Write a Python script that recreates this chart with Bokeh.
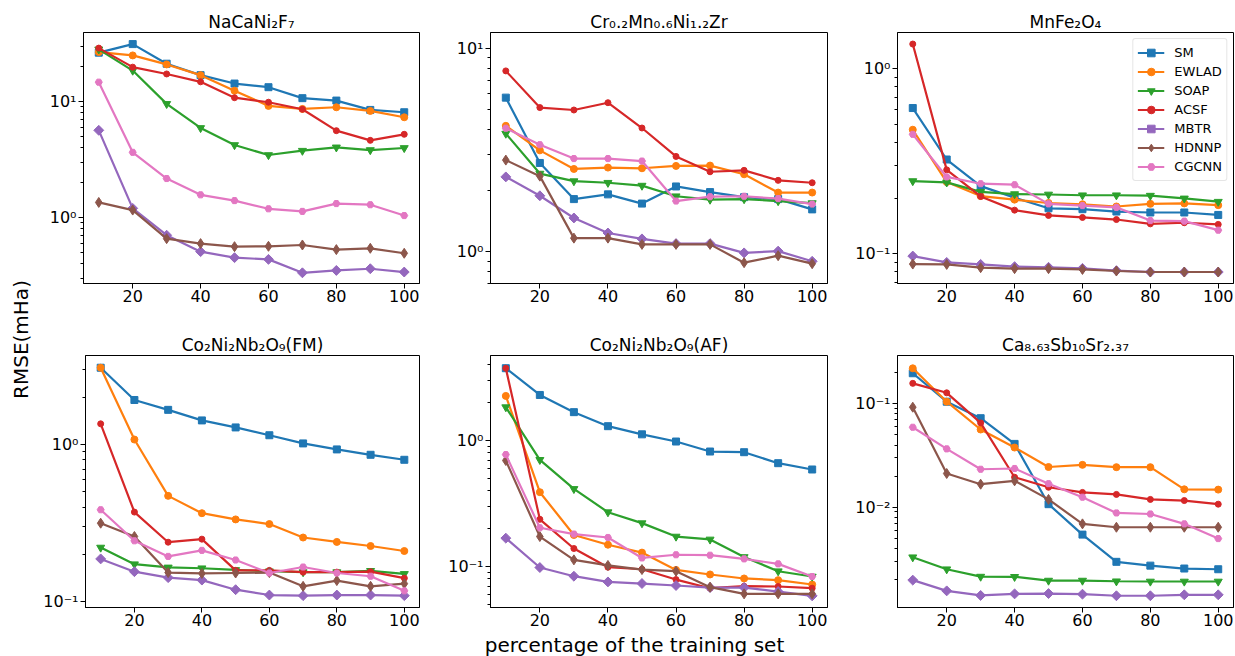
import math
from bokeh.plotting import figure
from bokeh.layouts import row, column
from bokeh.models import Range1d, FixedTicker, CustomJSTickFormatter
from bokeh.embed import file_html
from bokeh.resources import INLINE
from bokeh.core.properties import value

# ---------------- data ----------------
x_pct = [10, 20, 30, 40, 50, 60, 70, 80, 90, 100]
x_ticks = [20, 40, 60, 80, 100]
methods = ["SM", "EWLAD", "SOAP", "ACSF", "MBTR", "HDNNP", "CGCNN"]
colors = ["#1f77b4", "#ff7f0e", "#2ca02c", "#d62728", "#9467bd", "#8c564b", "#e377c2"]

titles = ["NaCaNi₂F₇", "Cr₀.₂Mn₀.₆Ni₁.₂Zr", "MnFe₂O₄",
          "Co₂Ni₂Nb₂O₉(FM)", "Co₂Ni₂Nb₂O₉(AF)", "Ca₈.₆₃Sb₁₀Sr₂.₃₇"]

naca = {
    "SM":    [26.4, 31.3, 21.2, 16.9, 14.3, 13.3, 10.7, 10.2, 8.47, 8.09],
    "EWLAD": [26.7, 25.0, 20.9, 16.9, 12.4, 9.18, 8.64, 8.93, 8.30, 7.32],
    "SOAP":  [28.2, 18.5, 9.55, 5.92, 4.22, 3.46, 3.77, 4.03, 3.82, 3.98],
    "ACSF":  [28.9, 19.8, 17.3, 14.8, 10.8, 9.87, 8.58, 5.61, 4.63, 5.22],
    "MBTR":  [5.65, 1.20, 0.704, 0.508, 0.451, 0.436, 0.334, 0.350, 0.362, 0.339],
    "HDNNP": [1.35, 1.16, 0.658, 0.596, 0.561, 0.565, 0.580, 0.529, 0.543, 0.492],
    "CGCNN": [14.7, 3.65, 2.17, 1.57, 1.40, 1.19, 1.13, 1.32, 1.29, 1.04],
}
crmn = {
    "SM":    [5.74, 2.74, 1.82, 1.92, 1.73, 2.10, 1.97, 1.86, 1.82, 1.62],
    "EWLAD": [4.17, 3.16, 2.56, 2.60, 2.58, 2.65, 2.66, 2.41, 1.96, 1.96],
    "SOAP":  [3.82, 2.43, 2.23, 2.19, 2.12, 1.88, 1.81, 1.82, 1.78, 1.74],
    "ACSF":  [7.77, 5.13, 4.99, 5.42, 4.07, 2.95, 2.48, 2.52, 2.25, 2.19],
    "MBTR":  [2.34, 1.89, 1.47, 1.24, 1.16, 1.10, 1.10, 0.99, 1.01, 0.90],
    "HDNNP": [2.83, 2.36, 1.17, 1.17, 1.09, 1.09, 1.09, 0.886, 0.959, 0.876],
    "CGCNN": [4.06, 3.37, 2.88, 2.88, 2.80, 1.78, 1.87, 1.88, 1.83, 1.72],
}
mnfe = {
    "SM":    [0.613, 0.323, 0.232, 0.201, 0.176, 0.174, 0.169, 0.167, 0.167, 0.162],
    "EWLAD": [0.468, 0.244, 0.205, 0.196, 0.188, 0.185, 0.180, 0.186, 0.187, 0.183],
    "SOAP":  [0.247, 0.243, 0.216, 0.210, 0.209, 0.207, 0.207, 0.206, 0.199, 0.191],
    "ACSF":  [1.36, 0.284, 0.204, 0.172, 0.161, 0.157, 0.153, 0.145, 0.147, 0.144],
    "MBTR":  [0.0971, 0.0897, 0.0875, 0.0851, 0.0844, 0.0833, 0.0810, 0.0796, 0.0796, 0.0796],
    "HDNNP": [0.0879, 0.0875, 0.0840, 0.0830, 0.0830, 0.0822, 0.0806, 0.0796, 0.0796, 0.0796],
    "CGCNN": [0.442, 0.260, 0.239, 0.236, 0.186, 0.182, 0.178, 0.151, 0.150, 0.134],
}
cofm = {
    "SM":    [3.10, 1.93, 1.67, 1.43, 1.29, 1.15, 1.02, 0.934, 0.863, 0.802],
    "EWLAD": [3.10, 1.08, 0.472, 0.366, 0.334, 0.312, 0.256, 0.240, 0.226, 0.210],
    "SOAP":  [0.221, 0.173, 0.165, 0.163, 0.159, 0.156, 0.154, 0.154, 0.157, 0.150],
    "ACSF":  [1.36, 0.372, 0.239, 0.250, 0.158, 0.158, 0.154, 0.154, 0.155, 0.141],
    "MBTR":  [0.187, 0.155, 0.142, 0.137, 0.119, 0.110, 0.109, 0.110, 0.110, 0.109],
    "HDNNP": [0.316, 0.260, 0.153, 0.151, 0.152, 0.153, 0.125, 0.136, 0.125, 0.130],
    "CGCNN": [0.385, 0.244, 0.194, 0.212, 0.184, 0.152, 0.166, 0.152, 0.145, 0.117],
}
coaf = {
    "SM":    [3.75, 2.30, 1.68, 1.30, 1.12, 0.982, 0.818, 0.808, 0.661, 0.589],
    "EWLAD": [2.26, 0.389, 0.178, 0.149, 0.129, 0.094, 0.0865, 0.0804, 0.078, 0.072],
    "SOAP":  [1.84, 0.703, 0.413, 0.270, 0.221, 0.173, 0.164, 0.119, 0.0918, 0.0833],
    "ACSF":  [3.75, 0.237, 0.139, 0.0988, 0.0952, 0.0788, 0.0673, 0.0698, 0.0694, 0.0673],
    "MBTR":  [0.168, 0.0982, 0.0838, 0.0755, 0.0733, 0.0707, 0.0681, 0.0681, 0.0633, 0.0585],
    "HDNNP": [0.694, 0.173, 0.113, 0.102, 0.0946, 0.0918, 0.0686, 0.0607, 0.0607, 0.0607],
    "CGCNN": [0.774, 0.203, 0.181, 0.170, 0.117, 0.124, 0.123, 0.115, 0.105, 0.0833],
}
casb = {
    "SM":    [0.198, 0.105, 0.0727, 0.0410, 0.0107, 0.00543, 0.00296, 0.00272, 0.00255, 0.00251],
    "EWLAD": [0.221, 0.105, 0.0565, 0.0378, 0.0245, 0.0257, 0.0244, 0.0244, 0.0149, 0.0148],
    "SOAP":  [0.00328, 0.00251, 0.00213, 0.00212, 0.00195, 0.00195, 0.00192, 0.00191, 0.00191, 0.00191],
    "ACSF":  [0.158, 0.128, 0.0655, 0.0195, 0.0156, 0.0139, 0.0133, 0.0119, 0.0116, 0.0107],
    "MBTR":  [0.00197, 0.00155, 0.00140, 0.00145, 0.00146, 0.00144, 0.00139, 0.00139, 0.00142, 0.00142],
    "HDNNP": [0.0929, 0.0212, 0.0167, 0.0180, 0.0119, 0.0069, 0.0064, 0.0064, 0.0064, 0.0064],
    "CGCNN": [0.0594, 0.0367, 0.0233, 0.0237, 0.0169, 0.0125, 0.0088, 0.0086, 0.0069, 0.00497],
}
panels = [naca, crmn, mnfe, cofm, coaf, casb]
y_ranges = [(0.27, 39.4), (0.70, 12.0), (0.069, 1.57),
            (0.0916, 3.71), (0.0473, 4.73), (0.00107, 0.294)]
x_range = (5.5, 104.5)

# ---------------- styles ----------------
FONT = "DejaVu Sans"
marker_style = {
    "SM":    dict(marker="square", size=7, angle=0.0),
    "EWLAD": dict(marker="circle", size=7, angle=0.0),
    "SOAP":  dict(marker="inverted_triangle", size=8, angle=0.0),
    "ACSF":  dict(marker="circle", size=6, angle=0.0),
    "MBTR":  dict(marker="square", size=7, angle=math.pi / 4),
    "HDNNP": dict(marker="diamond", size=10, angle=0.0),
    "CGCNN": dict(marker="hex", size=7, angle=0.0),
}

sup_code = """
const sup = {'0':'⁰','1':'¹','2':'²','3':'³','4':'⁴','5':'⁵','6':'⁶','7':'⁷','8':'⁸','9':'⁹','-':'⁻'};
const e = Math.round(Math.log10(tick));
return '10' + String(e).split('').map(c => sup[c]).join('');
"""

major_dec = [10.0 ** k for k in range(-4, 3)]
minor_dec = [m * 10.0 ** k for k in range(-4, 3) for m in range(2, 10)]


def make_panel(idx, w, h, bl, br, bt, bb, legend=False):
    data = panels[idx]
    p = figure(width=w, height=h, y_axis_type="log",
               x_range=Range1d(*x_range), y_range=Range1d(*y_ranges[idx]),
               output_backend="svg", toolbar_location=None, tools="",
               min_border_left=bl, min_border_right=br,
               min_border_top=bt, min_border_bottom=bb)
    p.title.text = titles[idx]
    p.title.align = "center"
    p.title.text_font = FONT
    p.title.text_font_size = "17px"
    p.title.text_font_style = "normal"
    p.title.text_color = "black"
    p.title.standoff = 2
    p.grid.visible = False
    p.outline_line_color = "black"
    p.outline_line_width = 1
    p.outline_line_alpha = 1
    p.background_fill_color = "white"
    p.border_fill_color = "white"

    p.xaxis.ticker = FixedTicker(ticks=x_ticks)
    p.yaxis.ticker = FixedTicker(ticks=major_dec, minor_ticks=minor_dec)
    p.yaxis.formatter = CustomJSTickFormatter(code=sup_code)
    for ax in (p.xaxis[0], p.yaxis[0]):
        ax.axis_line_color = "black"
        ax.major_tick_line_color = "black"
        ax.minor_tick_line_color = "black"
        ax.major_tick_out = 5
        ax.major_tick_in = 0
        ax.minor_tick_out = 3
        ax.minor_tick_in = 0
        ax.major_label_text_font = FONT
        ax.major_label_text_font_size = "16px"
        ax.major_label_text_color = "black"
        ax.major_label_standoff = 2
    p.xaxis[0].major_label_standoff = 1

    for m, c in zip(methods, colors):
        ms = marker_style[m]
        kw = dict(legend_label=m) if legend else {}
        p.line(x_pct, data[m], line_color=c, line_width=2.2, **kw)
        p.scatter(x_pct, data[m], marker=ms["marker"], size=ms["size"],
                  angle=ms["angle"], fill_color=c, line_color=c, **kw)

    if legend:
        lg = p.legend[0]
        lg.location = "top_right"
        lg.label_text_font = FONT
        lg.label_text_font_size = "13px"
        lg.label_text_color = "black"
        lg.glyph_width = 27
        lg.glyph_height = 19
        lg.label_height = 19
        lg.label_standoff = 10
        lg.spacing = 0
        lg.padding = 4
        lg.margin = 6
        lg.border_line_color = "#cccccc"
        lg.border_line_width = 1
        lg.border_radius = 3
        lg.background_fill_alpha = 0.8
    return p


# page origin is (0,0); column widths 390, 408, 397 ; row heights 318, 314
f1 = make_panel(0, 390, 318, 43, 11, 32, 35)
f2 = make_panel(1, 408, 318, 60, 11, 32, 35)
f3 = make_panel(2, 397, 318, 59, 2, 32, 35, legend=True)
f4 = make_panel(3, 390, 314, 43, 11, 37, 25)
f5 = make_panel(4, 408, 314, 60, 11, 37, 25)
f6 = make_panel(5, 397, 314, 59, 2, 37, 25)


def strip(w, h):
    s = figure(width=w, height=h, x_range=Range1d(0, w), y_range=Range1d(0, h),
               output_backend="svg", toolbar_location=None, tools="",
               x_axis_location=None, y_axis_location=None, min_border=0)
    s.title = None
    s.grid.visible = False
    s.outline_line_color = None
    s.background_fill_color = "white"
    s.border_fill_color = "white"
    return s


ystrip = strip(40, 656)
ystrip.text(x=[20], y=[317], text=["RMSE(mHa)"], angle=math.pi / 2,
            text_align="center", text_baseline="middle",
            text_font=value(FONT), text_font_size="20px", text_color="black")

xstrip = strip(1195, 24)
xstrip.text(x=[594], y=[12], text=["percentage of the training set"],
            text_align="center", text_baseline="middle",
            text_font=value(FONT), text_font_size="20px", text_color="black")

layout = row(ystrip, column(row(f1, f2, f3), row(f4, f5, f6), xstrip))

open("out.html", "w").write(file_html(layout, INLINE))
